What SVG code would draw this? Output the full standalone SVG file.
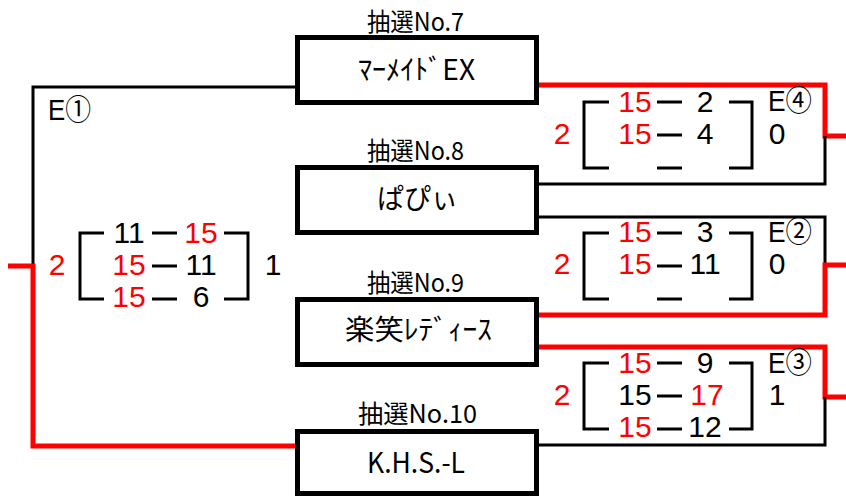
<svg xmlns="http://www.w3.org/2000/svg" width="846" height="497" viewBox="0 0 846 497">
<style>
.box{fill:#fff;stroke:#000;stroke-width:5}
.cb{fill:none;stroke:#000;stroke-width:3}
.cr{fill:none;stroke:#ff0000;stroke-width:5}
.br{fill:none;stroke:#000;stroke-width:3}
.lbl{font-family:"Noto Sans CJK JP","Liberation Sans",sans-serif;font-size:25px;fill:#000}
.nm{font-family:"Noto Sans CJK JP","Liberation Sans",sans-serif;font-size:28px;fill:#000}
.sc{font-family:"Liberation Sans","Noto Sans CJK JP",sans-serif;font-size:30px;text-anchor:middle;fill:#000}
.r{fill:#ff0000}
.e{font-family:"Liberation Sans","Noto Sans CJK JP",sans-serif;font-size:29px;fill:#000}
</style>
<rect width="846" height="497" fill="#fff"/>
<g id="connectors">
<path class="cb" d="M297,87 H33 V266"/>
<path class="cr" d="M8,266 H33 V446 H297"/>
<path class="cr" d="M538,85 H825 V136 H846"/>
<path class="cb" d="M538,184 H825 V136"/>
<path class="cb" d="M538,217 H825 V265"/>
<path class="cr" d="M846,265 H825 V315 H538"/>
<path class="cr" d="M538,347 H825 V397 H846"/>
<path class="cb" d="M825,397 V445 H538"/>
</g>
<g id="team7">
<text class="lbl" x="367" y="31" textLength="97" lengthAdjust="spacingAndGlyphs">抽選No.7</text>
<rect class="box" x="297.5" y="37.5" width="239" height="65"/>
<text class="nm" x="358" y="80" textLength="117" lengthAdjust="spacingAndGlyphs">ﾏｰﾒｲﾄﾞEX</text>
</g>
<g id="team8">
<text class="lbl" x="367" y="160" textLength="97" lengthAdjust="spacingAndGlyphs">抽選No.8</text>
<rect class="box" x="297.5" y="167.5" width="239" height="65"/>
<text class="nm" x="377" y="209" textLength="81" lengthAdjust="spacingAndGlyphs">ぱぴぃ</text>
</g>
<g id="team9">
<text class="lbl" x="367" y="292" textLength="97" lengthAdjust="spacingAndGlyphs">抽選No.9</text>
<rect class="box" x="297.5" y="299.5" width="239" height="65"/>
<text class="nm" x="345" y="340" textLength="147" lengthAdjust="spacingAndGlyphs">楽笑ﾚﾃﾞｨｰｽ</text>
</g>
<g id="team10">
<text class="lbl" x="358" y="423" textLength="119" lengthAdjust="spacingAndGlyphs">抽選No.10</text>
<rect class="box" x="297.5" y="431.5" width="239" height="62"/>
<text class="nm" x="367" y="473" textLength="98" lengthAdjust="spacingAndGlyphs">K.H.S.-L</text>
</g>
<g id="matchE1">
<text class="e" x="48" y="120" textLength="43" lengthAdjust="spacingAndGlyphs">E①</text>
<path class="br" d="M104,233 H80 V299 H104 M224,233 H248 V299 H224 M152,233 H177 M152,266 H177 M152,299 H177"/>
<text class="sc" x="129" y="243">11</text><text class="sc r" x="201" y="243">15</text>
<text class="sc r" x="129" y="275">15</text><text class="sc" x="201" y="275">11</text>
<text class="sc r" x="129" y="307">15</text><text class="sc" x="201" y="307">6</text>
<text class="sc r" x="57" y="275">2</text>
<text class="sc" x="273" y="275">1</text>
</g>
<g id="matchE4">
<text class="e" x="768" y="111" textLength="44" lengthAdjust="spacingAndGlyphs">E④</text>
<path class="br" d="M609,102 H584 V168 H609 M729,102 H752 V168 H729 M657,102 H682 M657,135 H682 M657,168 H682"/>
<text class="sc r" x="635" y="112">15</text><text class="sc" x="705" y="112">2</text>
<text class="sc r" x="635" y="144">15</text><text class="sc" x="705" y="144">4</text>
<text class="sc r" x="562" y="144">2</text>
<text class="sc" x="777" y="144">0</text>
</g>
<g id="matchE2">
<text class="e" x="768" y="242" textLength="44" lengthAdjust="spacingAndGlyphs">E②</text>
<path class="br" d="M609,233 H584 V299 H609 M729,233 H752 V299 H729 M657,233 H682 M657,266 H682 M657,299 H682"/>
<text class="sc r" x="635" y="242">15</text><text class="sc" x="705" y="242">3</text>
<text class="sc r" x="635" y="274">15</text><text class="sc" x="705" y="274">11</text>
<text class="sc r" x="562" y="274">2</text>
<text class="sc" x="777" y="274">0</text>
</g>
<g id="matchE3">
<text class="e" x="768" y="373" textLength="44" lengthAdjust="spacingAndGlyphs">E③</text>
<path class="br" d="M609,363 H584 V429 H609 M729,363 H752 V429 H729 M657,363 H682 M657,396 H682 M657,429 H682"/>
<text class="sc r" x="635" y="373">15</text><text class="sc" x="705" y="373">9</text>
<text class="sc" x="635" y="405">15</text><text class="sc r" x="707" y="405">17</text>
<text class="sc r" x="635" y="437">15</text><text class="sc" x="705" y="437">12</text>
<text class="sc r" x="562" y="405">2</text>
<text class="sc" x="777" y="405">1</text>
</g>
</svg>
